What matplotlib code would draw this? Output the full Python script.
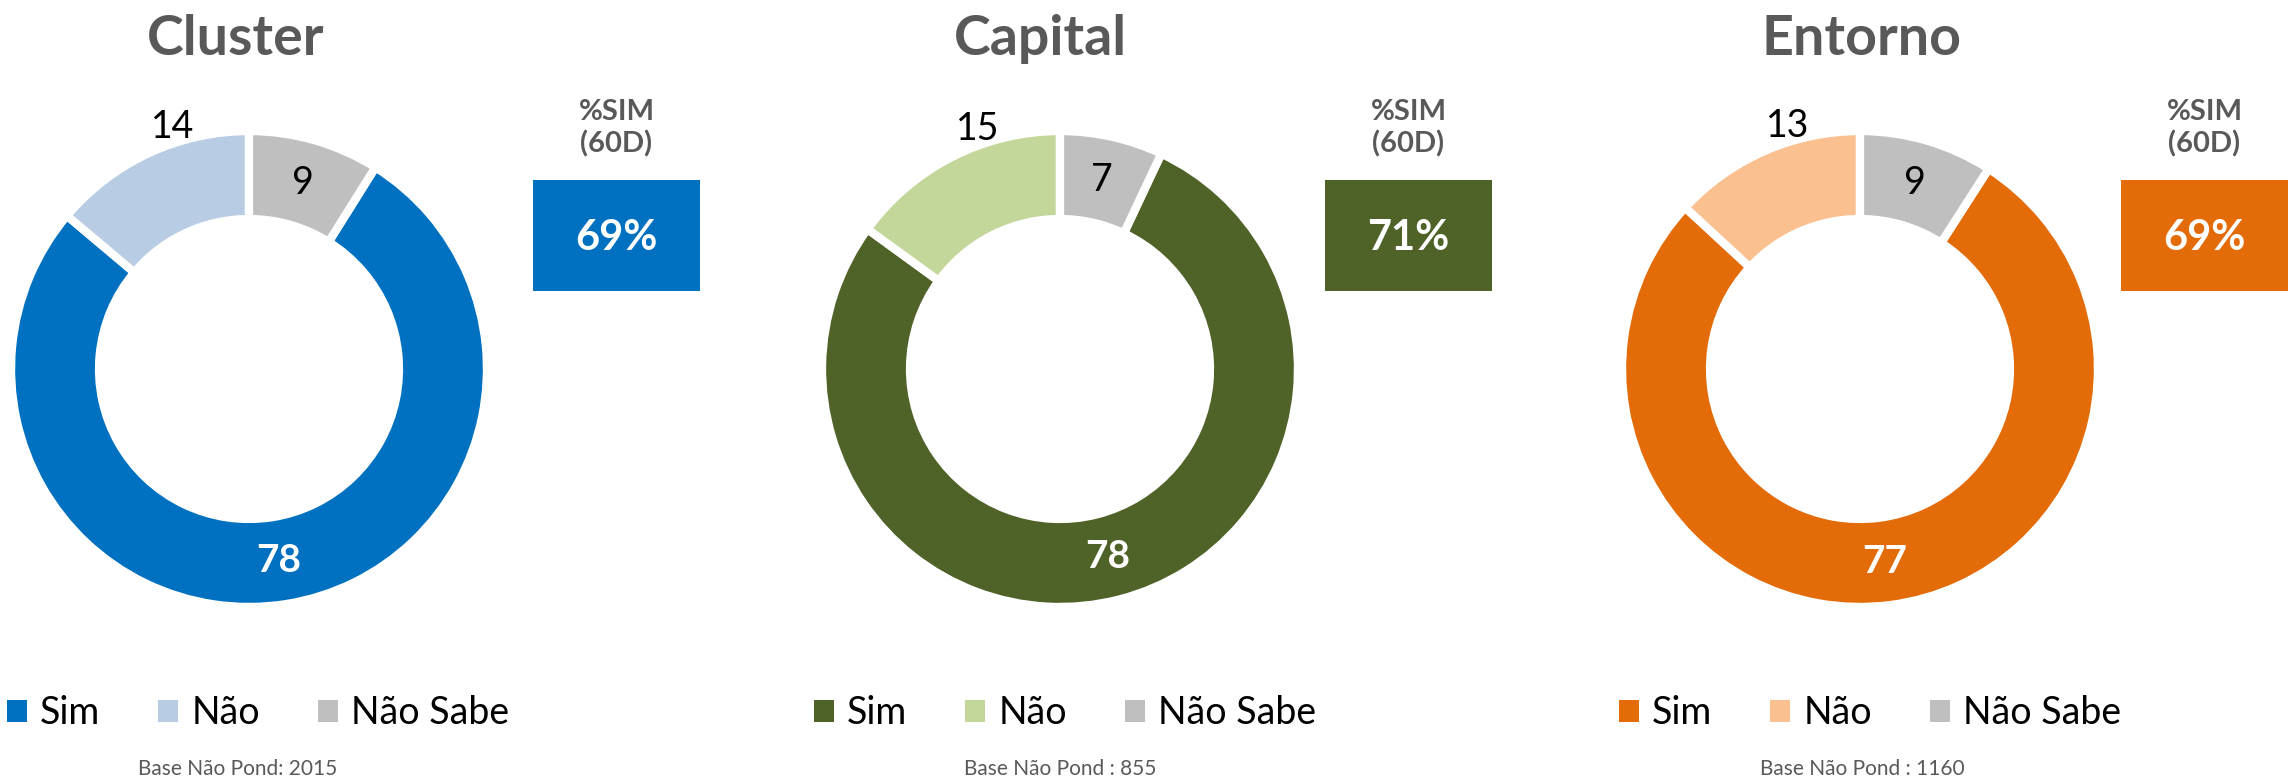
import numpy as np
import matplotlib
matplotlib.use("Agg")
import matplotlib.pyplot as plt
from matplotlib.patches import Patch, Rectangle

plt.rcParams['font.family'] = ['Lato', 'DejaVu Sans']

# data
panels = ['Cluster', 'Capital', 'Entorno']
categories = ['Sim', 'Não', 'Não Sabe']
sim = [78, 78, 77]
nao = [14, 15, 13]
nao_sabe = [9, 7, 9]
pct_sim = ['69%', '71%', '69%']
bases = ['Base Não Pond: 2015', 'Base Não Pond : 855', 'Base Não Pond : 1160']
box_title = '%SIM\n(60D)'

colors = [['#0070C0', '#B8CCE4', '#BFBFBF'],
          ['#4F6228', '#C4D79B', '#BFBFBF'],
          ['#E36C09', '#FAC090', '#BFBFBF']]

W, H = 2295, 779
GRAY = '#595959'

# layout, pixels
centers_x = [249, 1060, 1860]
center_y = 369
R = 238
title_x = [236, 1040, 1861]
box_x = [533, 1325, 2121]
box_w, box_top, box_h = 167, 180, 111
legend_x = [7, 814, 1619]
base_x = [238, 1060, 1862]


def fx(x):
    return x / W


def fy(y):
    return 1 - y / H


fig = plt.figure(figsize=(W / 100, H / 100), dpi=100)

lim = 1.25
side = 2 * lim * R
for i, name in enumerate(panels):
    cx = centers_x[i]
    ax = fig.add_axes([fx(cx - side / 2), fy(center_y + side / 2), side / W, side / H])
    vals = [sim[i], nao[i], nao_sabe[i]]
    total = sum(vals)
    start = 90 - 360 * nao_sabe[i] / total
    wedges, _ = ax.pie(vals, colors=colors[i], startangle=start, counterclock=False,
                       radius=1, wedgeprops=dict(width=0.37, edgecolor='white', linewidth=6))
    ax.set_xlim(-lim, lim)
    ax.set_ylim(-lim, lim)
    ax.set_aspect('equal')
    ax.axis('off')

    for j, w in enumerate(wedges):
        mid = ((w.theta1 + w.theta2) / 2 + 180) % 360 - 180
        if j == 1:
            # outside label, pulled a bit toward the top like Excel's best fit
            ang = np.deg2rad(0.7 * mid + 0.3 * 90)
            r = 1.065
            ax.text(r * np.cos(ang), r * np.sin(ang), str(vals[j]), ha='center', va='center',
                    fontsize=27, color='black')
        else:
            ang = np.deg2rad(mid)
            r = 0.815
            bold = j == 0
            ax.text(r * np.cos(ang), r * np.sin(ang), str(vals[j]), ha='center', va='center',
                    fontsize=28 if bold else 27, color='white' if bold else 'black',
                    fontweight='bold' if bold else 'normal')

    # title
    fig.text(fx(title_x[i]), fy(55), name, ha='center', va='baseline',
             fontsize=40, fontweight='bold', color=GRAY)

    # %SIM box
    bx = box_x[i]
    fig.patches.append(Rectangle((fx(bx), fy(box_top + box_h)), box_w / W, box_h / H,
                                 transform=fig.transFigure, facecolor=colors[i][0],
                                 edgecolor='none'))
    fig.text(fx(bx + box_w / 2), fy(128), box_title, ha='center', va='center',
             fontsize=21, fontweight='bold', color=GRAY, linespacing=1.25)
    fig.text(fx(bx + box_w / 2), fy(box_top + box_h / 2 + 2), pct_sim[i], ha='center',
             va='center', fontsize=30, fontweight='bold', color='white')

    # legend
    handles = [Patch(facecolor=c, edgecolor='none') for c in colors[i]]
    fig.legend(handles, categories, loc='center left', bbox_to_anchor=(fx(legend_x[i]), fy(713)),
               ncol=3, frameon=False, fontsize=27, handlelength=0.52, handleheight=0.52,
               handletextpad=0.36, columnspacing=1.55, borderpad=0, borderaxespad=0)

    # base
    fig.text(fx(base_x[i]), fy(775), bases[i], ha='center', va='baseline',
             fontsize=15, color=GRAY)

fig.savefig('out.png', dpi=100, facecolor='white')
